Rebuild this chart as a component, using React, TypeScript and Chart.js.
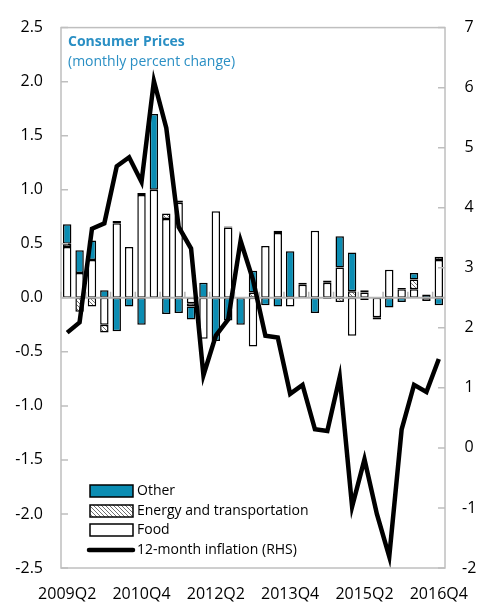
import React, { useEffect, useRef } from 'react';
import { Chart, registerables } from 'chart.js';

Chart.register(...registerables);

const quarters = [
  '2009Q2', '2009Q3', '2009Q4', '2010Q1', '2010Q2', '2010Q3', '2010Q4', '2011Q1',
  '2011Q2', '2011Q3', '2011Q4', '2012Q1', '2012Q2', '2012Q3', '2012Q4', '2013Q1',
  '2013Q2', '2013Q3', '2013Q4', '2014Q1', '2014Q2', '2014Q3', '2014Q4', '2015Q1',
  '2015Q2', '2015Q3', '2015Q4', '2016Q1', '2016Q2', '2016Q3', '2016Q4',
];

const food = [
  0.47, 0.23, 0.35, -0.25, 0.69, 0.47, 0.95, 1.0, 0.73, 0.88, -0.05, -0.38, 0.8, 0.65, null, -0.45,
  0.48, 0.6, -0.08, 0.12, 0.62, 0.14, 0.28, -0.35, 0.05, -0.18, 0.26, 0.08, 0.08, -0.03, 0.35,
];

const energy = [
  0.03, -0.13, -0.08, -0.07, 0.02, null, 0.02, null, 0.05, 0.02, -0.03, null, null, 0.01, null, 0.05,
  null, 0.02, null, 0.02, null, 0.02, -0.04, 0.06, 0.02, -0.02, null, 0.01, 0.09, null, 0.03,
];

const other = [
  0.18, 0.21, 0.18, 0.07, -0.31, -0.08, -0.25, 0.7, -0.15, -0.14, -0.12, 0.14, -0.4, -0.21, -0.25, 0.2,
  -0.07, -0.08, 0.43, null, -0.14, -0.01, 0.29, 0.36, -0.02, null, -0.09, -0.04, 0.06, 0.03, -0.07,
];

const inflation = [
  1.92, 2.09, 3.65, 3.74, 4.69, 4.84, 4.43, 6.11, 5.33, 3.68, 3.32, 1.21, 1.87, 2.14, 3.45, 2.8,
  1.87, 1.84, 0.9, 1.05, 0.31, 0.28, 1.18, -0.98, -0.19, -1.1, -1.81, 0.31, 1.05, 0.93, 1.48,
];

const leftTicks = { min: -2.5, max: 2.5, step: 0.5 };
const rightTicks = { min: -2, max: 7, step: 1 };

const TEAL = '#0b8db3';
const TITLE_COLOR = '#2a8fc4';
const FRAME = '#bfbfbf';
const FONT = "'Open Sans', sans-serif";

function makeHatch(): CanvasPattern | string {
  const c = document.createElement('canvas');
  c.width = 4;
  c.height = 4;
  const g = c.getContext('2d');
  if (!g) return '#ccc';
  g.fillStyle = '#ffffff';
  g.fillRect(0, 0, 4, 4);
  g.strokeStyle = '#707070';
  g.lineWidth = 1;
  g.beginPath();
  g.moveTo(0, 0);
  g.lineTo(4, 4);
  g.moveTo(-1, 3);
  g.lineTo(1, 5);
  g.moveTo(3, -1);
  g.lineTo(5, 1);
  g.stroke();
  return g.createPattern(c, 'repeat') || '#ccc';
}

const decor = {
  id: 'decor',
  beforeDatasetDraw(chart: any, args: any) {
    if (args.index !== 3) return;
    const { ctx, chartArea } = chart;
    const xs = chart.scales.x;
    const ys = chart.scales.y;
    const zeroY = ys.getPixelForValue(0);
    const slot = xs.getPixelForValue(1) - xs.getPixelForValue(0);
    const x0 = xs.getPixelForValue(0) - slot / 2;
    ctx.save();
    ctx.strokeStyle = '#b5b5b5';
    ctx.lineWidth = 2;
    ctx.beginPath();
    ctx.moveTo(chartArea.left, zeroY);
    ctx.lineTo(chartArea.right, zeroY);
    ctx.stroke();
    ctx.lineWidth = 1.5;
    ctx.beginPath();
    for (let k = 0; k <= quarters.length; k += 2) {
      const x = x0 + k * slot;
      ctx.moveTo(x, zeroY);
      ctx.lineTo(x, zeroY - 6);
    }
    ctx.stroke();
    ctx.restore();
  },
  afterDraw(chart: any) {
    const { ctx, chartArea } = chart;
    const { left, right, top, bottom } = chartArea;
    const ys = chart.scales.y;
    const y1 = chart.scales.y1;
    ctx.save();
    ctx.strokeStyle = FRAME;
    ctx.lineWidth = 1.5;
    ctx.strokeRect(left, top, right - left, bottom - top);
    ctx.beginPath();
    ys.ticks.forEach((t: any) => {
      const y = ys.getPixelForValue(t.value);
      ctx.moveTo(left, y);
      ctx.lineTo(left + 7, y);
    });
    y1.ticks.forEach((t: any) => {
      const y = y1.getPixelForValue(t.value);
      ctx.moveTo(right, y);
      ctx.lineTo(right - 7, y);
    });
    ctx.stroke();

    ctx.textBaseline = 'middle';
    ctx.textAlign = 'left';
    ctx.fillStyle = TITLE_COLOR;
    ctx.font = `bold 14px ${FONT}`;
    ctx.fillText('Consumer Prices', left + 7, top + 14);
    ctx.font = `14px ${FONT}`;
    ctx.fillText('(monthly percent change)', left + 7, top + 34);

    const ds = chart.data.datasets;
    const rows = [
      { d: ds[2], dy: 77, kind: 'box' },
      { d: ds[1], dy: 57, kind: 'box' },
      { d: ds[0], dy: 38, kind: 'box' },
      { d: ds[3], dy: 18, kind: 'line' },
    ];
    const sx = left + 29;
    const sw = 43;
    rows.forEach((r) => {
      const cy = bottom - r.dy;
      if (r.kind === 'box') {
        ctx.fillStyle = r.d.backgroundColor;
        ctx.fillRect(sx, cy - 6, sw, 12);
        ctx.strokeStyle = r.d.borderColor;
        ctx.lineWidth = 1.5;
        ctx.strokeRect(sx, cy - 6, sw, 12);
      } else {
        ctx.strokeStyle = r.d.borderColor;
        ctx.lineWidth = r.d.borderWidth;
        ctx.lineCap = 'round';
        ctx.beginPath();
        ctx.moveTo(sx - 1, cy);
        ctx.lineTo(sx + sw, cy);
        ctx.stroke();
      }
      ctx.fillStyle = '#000';
      ctx.font = `14px ${FONT}`;
      ctx.fillText(r.d.label, sx + sw + 4, cy);
    });
    ctx.restore();
  },
};

export default function App() {
  const ref = useRef<HTMLCanvasElement>(null);
  useEffect(() => {
    document.body.style.margin = '0';
    const canvas = ref.current;
    if (!canvas) return;
    Chart.defaults.font.family = FONT;
    const hatch = makeHatch();
    const barCommon = {
      type: 'bar' as const,
      borderColor: '#000000',
      borderWidth: 1.5,
      borderSkipped: false,
      yAxisID: 'y',
      stack: 's',
      order: 2,
      barPercentage: 0.68,
      categoryPercentage: 1,
    };
    const chart = new Chart(canvas, {
      type: 'bar',
      data: {
        labels: quarters,
        datasets: [
          { ...barCommon, label: 'Food', data: food, backgroundColor: '#ffffff' },
          { ...barCommon, label: 'Energy and transportation', data: energy, backgroundColor: hatch },
          { ...barCommon, label: 'Other', data: other, backgroundColor: TEAL },
          {
            type: 'line',
            label: '12-month inflation (RHS)',
            data: inflation,
            yAxisID: 'y1',
            borderColor: '#000000',
            borderWidth: 4.5,
            pointRadius: 0,
            tension: 0,
            order: 1,
            borderJoinStyle: 'miter',
            fill: false,
          },
        ] as any,
      },
      options: {
        responsive: false,
        animation: false,
        layout: { padding: { top: 22 } },
        plugins: { legend: { display: false }, tooltip: { enabled: false } },
        scales: {
          x: {
            stacked: true,
            grid: { display: false, drawTicks: false },
            border: { display: false },
            ticks: {
              autoSkip: false,
              maxRotation: 0,
              minRotation: 0,
              padding: 17,
              color: '#000',
              font: { size: 16 },
              callback: (_v: any, i: number) => (i % 6 === 0 ? quarters[i] : ''),
            },
            afterFit: (s: any) => {
              s.height = 38;
              s.paddingLeft = 0;
              s.paddingRight = 0;
            },
          },
          y: {
            stacked: true,
            position: 'left',
            min: leftTicks.min,
            max: leftTicks.max,
            grid: { display: false, drawTicks: false },
            border: { display: false },
            ticks: {
              stepSize: leftTicks.step,
              padding: 18,
              color: '#000',
              font: { size: 16 },
              callback: (v: any) => Number(v).toFixed(1),
            },
            afterFit: (s: any) => {
              s.width = 61;
            },
          },
          y1: {
            position: 'right',
            min: rightTicks.min,
            max: rightTicks.max,
            grid: { display: false, drawTicks: false },
            border: { display: false },
            ticks: {
              stepSize: rightTicks.step,
              padding: 17,
              crossAlign: 'center',
              color: '#000',
              font: { size: 16 },
            },
            afterFit: (s: any) => {
              s.width = 33;
            },
          },
        },
      } as any,
      plugins: [decor as any],
    });
    return () => chart.destroy();
  }, []);
  return <canvas ref={ref} width={478} height={606} style={{ display: 'block' }} />;
}
